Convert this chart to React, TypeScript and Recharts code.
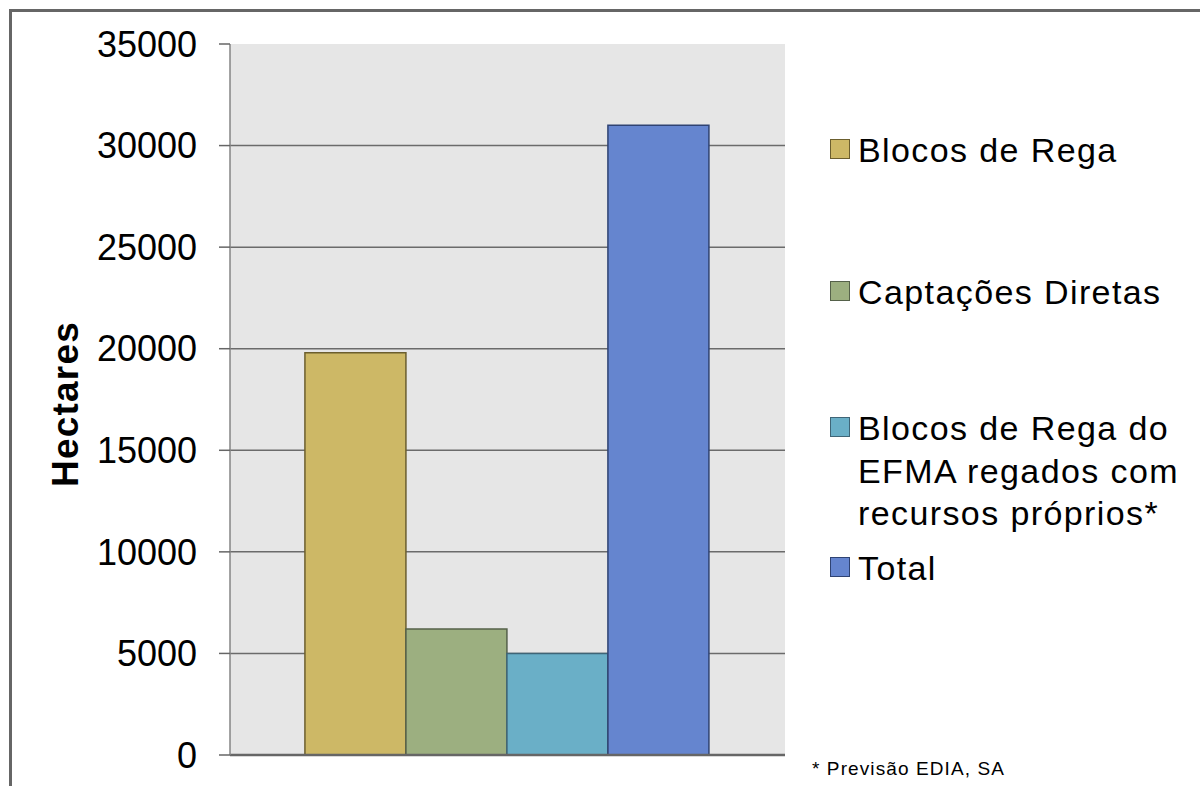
import { BarChart, Bar, XAxis, YAxis, CartesianGrid } from "recharts";

const seriesKeys = ["blocos", "captacoes", "efma", "total"];
const seriesLabels = [
  ["Blocos de Rega"],
  ["Captações Diretas"],
  ["Blocos de Rega do", "EFMA regados com", "recursos próprios*"],
  ["Total"],
];
const seriesValues = [19800, 6200, 5000, 31000];
const seriesFills = ["#cdb866", "#9caf80", "#6aafc7", "#6585cf"];
const seriesStrokes = ["#6b5e2e", "#55614a", "#3f6577", "#2f4373"];
const yTicks = [0, 5000, 10000, 15000, 20000, 25000, 30000, 35000];
const gridValues = [5000, 10000, 15000, 20000, 25000, 30000];
const legendTops = [129, 271, 407, 547];
const footnote = "* Previsão EDIA, SA";
const axisTitle = "Hectares";

const FONT = '"Liberation Sans", Arial, sans-serif';

const row: Record<string, number | string> = { name: "" };
seriesKeys.forEach((k, i) => {
  row[k] = seriesValues[i];
});
const data = [row];

export default function App() {
  return (
    <div
      style={{
        position: "fixed",
        left: 0,
        top: 0,
        width: 1200,
        height: 786,
        background: "#fff",
        fontFamily: FONT,
        overflow: "hidden",
      }}
    >
      {/* frame edges */}
      <div
        style={{
          position: "absolute",
          left: 9,
          top: 9,
          width: 1300,
          height: 900,
          borderTop: "3px solid #666",
          borderLeft: "3px solid #666",
        }}
      />
      <div style={{ position: "absolute", left: 0, top: 0 }}>
        <BarChart
          width={1200}
          height={786}
          data={data}
          margin={{ top: 44, right: 415, bottom: 0, left: 0 }}
          barCategoryGap="13.5%"
          barGap={0}
        >
          <CartesianGrid
            vertical={false}
            horizontalValues={gridValues}
            stroke="#6b6b6b"
            strokeWidth={1.5}
            fill="#e6e6e6"
            fillOpacity={1}
          />
          <XAxis
            dataKey="name"
            tick={false}
            height={31}
            axisLine={{ stroke: "#666", strokeWidth: 2.5 }}
            tickLine={false}
          />
          <YAxis
            width={230}
            domain={[0, 35000]}
            ticks={yTicks}
            interval={0}
            tickSize={11}
            tickMargin={22}
            axisLine={{ stroke: "#858585", strokeWidth: 1.5 }}
            tickLine={{ stroke: "#666", strokeWidth: 1.5 }}
            tick={{ fontSize: 36, fill: "#000", fontFamily: FONT }}
            label={{
              content: () => (
                <text
                  x={78}
                  y={404}
                  transform="rotate(-90 78 404)"
                  textAnchor="middle"
                  fontSize={37}
                  fontWeight="bold"
                  fontFamily={FONT}
                  letterSpacing={1.2}
                  fill="#000"
                >
                  {axisTitle}
                </text>
              ),
            }}
          />
          {seriesKeys.map((k, i) => (
            <Bar
              key={k}
              dataKey={k}
              fill={seriesFills[i]}
              stroke={seriesStrokes[i]}
              strokeWidth={1.5}
              isAnimationActive={false}
            />
          ))}
        </BarChart>
      </div>

      {/* legend */}
      {seriesKeys.map((k, i) => (
        <div
          key={k}
          style={{
            position: "absolute",
            left: 830,
            top: legendTops[i],
            fontSize: 34,
            lineHeight: "42.5px",
            letterSpacing: "1.4px",
            color: "#000",
          }}
        >
          <div
            style={{
              position: "absolute",
              left: 0,
              top: 10,
              width: 18,
              height: 18,
              background: seriesFills[i],
              border: `1px solid ${seriesStrokes[i]}`,
            }}
          />
          <div style={{ marginLeft: 28, whiteSpace: "nowrap" }}>
            {seriesLabels[i].map((line) => (
              <div key={line}>{line}</div>
            ))}
          </div>
        </div>
      ))}

      <div
        style={{
          position: "absolute",
          left: 812,
          top: 758,
          fontSize: 19,
          lineHeight: "22px",
          letterSpacing: "1.1px",
          color: "#000",
          whiteSpace: "nowrap",
        }}
      >
        {footnote}
      </div>
    </div>
  );
}
